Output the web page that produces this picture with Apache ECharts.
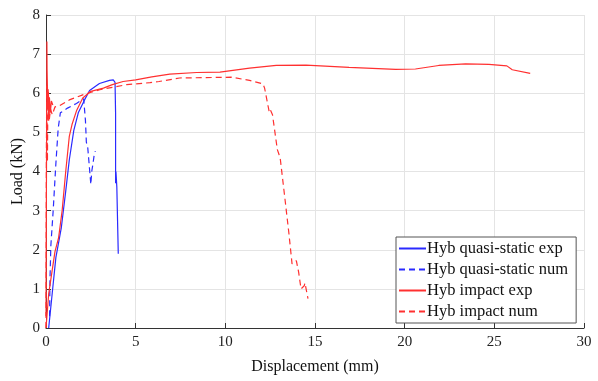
<!DOCTYPE html>
<html><head><meta charset="utf-8">
<script src="https://cdn.jsdelivr.net/npm/echarts@6/dist/echarts.min.js"></script>
<style>html,body{margin:0;padding:0;background:#fff}#c{width:598px;height:381px}</style>
</head><body><div id="c"></div>
<script>
const xTicks = [0, 5, 10, 15, 20, 25, 30];
const yTicks = [0, 1, 2, 3, 4, 5, 6, 7, 8];
const seriesNames = ['Hyb quasi-static exp', 'Hyb quasi-static num', 'Hyb impact exp', 'Hyb impact num'];

const qsExp = [[0.15,0],[0.35,0.9],[0.55,1.8],[0.85,2.55],[1.1,3.5],[1.3,4.3],[1.55,5.05],[1.8,5.5],[2.15,5.83],[2.43,6.07],[2.98,6.25],[3.54,6.33],[3.75,6.34],[3.85,6.28],[3.88,5.5],[3.88,3.7],[3.9,4.0],[3.95,3.6],[4.03,1.9]];
const qsNum = [[0.2,0.3],[0.22,1.2],[0.27,2.1],[0.4,3.0],[0.55,4.2],[0.68,5.1],[0.8,5.5],[1.2,5.62],[1.7,5.74],[2.1,5.86],[2.2,5.3],[2.25,4.75],[2.33,4.6],[2.42,4.55],[2.5,3.67],[2.55,4.0],[2.62,4.2],[2.68,4.4],[2.75,4.52]];
const impExpSpike = [[0.0,0.3],[0.03,4.5],[0.05,7.32],[0.06,6.6],[0.08,6.15],[0.1,5.6],[0.12,6.1],[0.15,5.3],[0.19,5.9],[0.24,5.5],[0.3,5.8],[0.38,5.7]];
const impExp = [[0,0],[0.15,0.87],[0.5,1.95],[0.7,2.3],[0.9,3.0],[1.1,4.0],[1.3,4.9],[1.45,5.2],[1.7,5.55],[2.05,5.88],[2.5,6.05],[3.2,6.13],[3.7,6.22],[4.3,6.3],[5.0,6.34],[5.9,6.42],[6.9,6.49],[8.4,6.53],[9.7,6.54],[11.35,6.64],[12.84,6.71],[14.5,6.72],[16.9,6.66],[19.5,6.61],[20.6,6.62],[21.9,6.71],[23.4,6.75],[24.7,6.74],[25.7,6.7],[26.0,6.6],[27.0,6.51]];
const impNum = [[0,0],[0.01,2],[0.02,4.2],[0.04,6.2],[0.06,5.0],[0.08,4.25],[0.1,5.6],[0.13,6.05],[0.18,5.3],[0.25,5.6],[0.35,5.45],[0.5,5.65],[0.75,5.68],[1.3,5.83],[2.05,5.96],[3.0,6.09],[4.5,6.22],[5.8,6.27],[6.3,6.3],[7.45,6.39],[10.33,6.41],[11.35,6.33],[12.1,6.24],[12.19,6.13],[12.44,5.54],[12.49,5.6],[12.63,5.45],[12.9,4.56],[12.99,4.44],[13.07,4.3],[13.35,3.2],[13.54,2.44],[13.72,1.64],[13.8,1.6],[13.96,1.72],[14.09,1.42],[14.22,1.0],[14.4,1.08],[14.44,1.15],[14.61,0.75]];

const BLUE = '#2a2aff', RED = '#ff3030';
const FONT = 'Liberation Serif';
const chart = echarts.init(document.getElementById('c'), null, {renderer:'canvas'});
function line(name, data, color, dashed){
  return {name, type:'line', data, symbol:'none', animation:false,
    lineStyle:{color, width:1.2, type: dashed ? [6,4] : 'solid'}, itemStyle:{color}};
}
chart.setOption({
  animation:false,
  grid:{left:46, right:14, top:15, bottom:53, containLabel:false, outerBoundsMode:'none'},
  legend:{
    data: seriesNames.map(n=>({name:n})),
    orient:'vertical', left:396, top:237,
    backgroundColor:'#fff', borderColor:'#555', borderWidth:1,
    padding:[3,8,3,2], itemGap:4, itemWidth:27, itemHeight:10,
    itemStyle:{opacity:0},
    textStyle:{fontFamily:FONT, fontSize:16.5, color:'#111', padding:[0,0,0,-4]}
  },
  xAxis:{type:'value', min:xTicks[0], max:xTicks[xTicks.length-1], interval:5,
    name:'Displacement (mm)', nameLocation:'middle', nameGap:31, nameMoveOverlap:false,
    nameTextStyle:{fontFamily:FONT, fontSize:16, color:'#111'},
    axisLine:{lineStyle:{color:'#333', width:1}},
    axisTick:{inside:true, length:5, lineStyle:{color:'#333'}},
    axisLabel:{fontFamily:FONT, fontSize:15, color:'#222', margin:7},
    splitLine:{show:true, lineStyle:{color:'#e4e4e4', width:1}}},
  yAxis:{type:'value', min:yTicks[0], max:yTicks[yTicks.length-1], interval:1,
    name:'Load (kN)', nameLocation:'middle', nameGap:20, nameMoveOverlap:false,
    nameTextStyle:{fontFamily:FONT, fontSize:16, color:'#111'},
    axisLine:{show:true, lineStyle:{color:'#333', width:1}},
    axisTick:{show:true, inside:true, length:5, lineStyle:{color:'#333'}},
    axisLabel:{fontFamily:FONT, fontSize:15, color:'#222', margin:6},
    splitLine:{show:true, lineStyle:{color:'#e4e4e4', width:1}}},
  series:[
    line(seriesNames[0], qsExp, BLUE, false),
    line(seriesNames[1], qsNum, BLUE, true),
    line(seriesNames[2], impExp, RED, false),
    line(seriesNames[3], impNum, RED, true),
    line(seriesNames[2], impExpSpike, RED, false)
  ]
});
</script></body></html>
